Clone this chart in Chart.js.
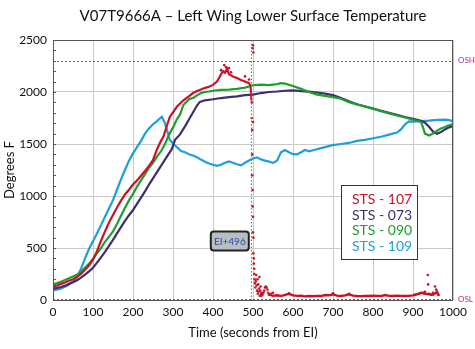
<!DOCTYPE html>
<html>
<head>
<meta charset="utf-8">
<script src="https://cdn.jsdelivr.net/npm/chart.js@4/dist/chart.umd.min.js"></script>
<style>
html,body{margin:0;padding:0;background:#fff;}
#c{display:block;}
</style>
</head>
<body>
<canvas id="c" width="475" height="349"></canvas>
<script>
// ---------- DATA ----------
const chartTitle = "V07T9666A \u2013 Left Wing Lower Surface Temperature";
const xTitle = "Time (seconds from EI)";
const yTitle = "Degrees F";
const seriesNames = ["STS - 107", "STS - 073", "STS - 090", "STS - 109"];
const seriesColors = ["#cc1126", "#3d2f6c", "#1f9e2e", "#1c9fdc"];

const t107 = [0,10,20,30,40,50,60,70,80,90,100,110,120,130,140,150,160,170,180,190,200,210,220,230,240,250,260,270,276,285,292,300,310,326,342,350,360,370,380,390,400,410,416,420,425,430,435,440,450,460,470,480,490,494,496];
const v107 = [130,140,155,168,185,200,222,250,290,330,388,470,570,660,745,818,890,955,1015,1060,1110,1150,1195,1240,1290,1345,1450,1530,1570,1680,1760,1805,1860,1920,1965,1990,2010,2025,2040,2050,2068,2100,2140,2170,2200,2185,2225,2170,2150,2135,2115,2100,2085,2060,1920];

const tTail107 = [540,550,560,570,580,590,600,610,620,630,640,650,660,670,680,690,700,710,720,730,740,750,760,770,780,790,800,810,820,830,840,850,860,870,880,890,900,910,920,930,940,950,960,965];
const vTail107 = [55,40,45,38,50,60,45,40,42,35,38,36,40,38,48,45,55,42,38,45,55,42,38,36,40,38,42,40,38,48,40,38,42,40,38,40,45,55,70,60,55,50,75,40];

const tDots107 = [420,428,432,436,440,445,480,490,499,500,501,500,497,497,498,498,498,499,499,500,500,501,501,502,502,503,503,504,505,506,507,508,509,510,511,512,513,514,515,516,517,518,519,520,521,522,524,526,528,530,532,534,536,538,540,545,550,590,700,740,905,915,925,930,937,938,940,945,950,955,958,960,963];
const vDots107 = [2210,2260,2240,2200,2230,2190,2150,2120,2420,2450,2380,1711,1900,1750,1635,1400,1200,1058,900,800,650,600,450,400,350,300,250,200,160,120,180,240,140,90,200,60,150,80,110,220,40,90,130,60,40,70,50,70,90,120,130,120,100,70,50,60,70,65,65,60,50,60,70,80,240,150,60,50,70,130,100,80,50];

const t073 = [0,10,20,30,40,50,60,70,80,90,100,110,120,130,140,150,160,170,180,190,200,210,220,230,240,250,260,270,280,290,297,305,317,330,342,351,360,367,380,400,420,440,460,480,500,520,540,560,580,600,620,640,660,680,700,720,740,760,780,800,820,840,860,880,900,920,930,940,950,960,970,980,990,1000];
const v073 = [110,116,125,138,155,170,190,215,245,275,310,360,410,462,520,578,640,700,760,815,865,925,985,1045,1110,1170,1230,1290,1350,1410,1450,1540,1590,1670,1750,1810,1870,1905,1920,1930,1942,1950,1958,1970,1975,1990,2000,2005,2012,2015,2008,2004,1995,1985,1970,1942,1910,1882,1860,1840,1820,1800,1780,1760,1742,1722,1705,1665,1620,1598,1615,1640,1660,1672];

const t090 = [0,10,20,30,40,50,60,70,80,90,100,110,120,130,140,150,160,170,180,190,200,210,220,230,240,250,260,270,280,290,301,310,317,326,340,351,360,370,380,390,400,420,440,460,480,500,520,540,560,570,580,600,620,640,660,680,700,720,740,760,780,800,820,840,860,880,900,910,920,925,930,940,950,960,970,980,990,1000];
const v090 = [150,162,175,192,210,226,242,272,310,350,395,450,500,560,610,660,730,810,888,958,1020,1090,1150,1210,1270,1318,1378,1430,1500,1590,1667,1740,1779,1875,1930,1945,1968,1990,2000,2005,2012,2020,2022,2030,2042,2065,2070,2066,2076,2085,2080,2058,2030,2000,1975,1962,1950,1935,1902,1880,1862,1840,1815,1795,1775,1755,1733,1724,1712,1660,1600,1582,1600,1628,1650,1664,1680,1690];

const t109 = [0,10,20,30,40,50,60,70,80,90,100,110,120,130,140,150,160,170,180,190,200,210,220,230,240,250,260,272,280,292,300,310,320,330,340,350,360,370,380,390,400,410,420,430,440,450,460,470,480,490,500,510,520,530,540,550,560,570,580,590,600,610,620,630,640,650,660,670,680,690,700,720,740,760,780,800,820,840,860,870,880,890,900,920,940,960,980,990,1000];
const v109 = [95,100,112,128,148,178,220,300,400,490,565,640,720,800,880,960,1060,1160,1250,1340,1410,1470,1530,1600,1650,1690,1720,1762,1700,1540,1505,1468,1432,1420,1402,1390,1372,1350,1330,1312,1300,1290,1300,1320,1332,1320,1305,1295,1320,1342,1360,1372,1352,1340,1330,1318,1340,1420,1442,1420,1402,1400,1420,1442,1430,1440,1450,1460,1470,1480,1490,1500,1510,1530,1540,1555,1570,1590,1610,1640,1690,1718,1715,1720,1725,1732,1735,1730,1720];

const xTicksStep = 100, xMin = 0, xMax = 1000;
const yTicksStep = 500, yMin = 0, yMax = 2500;
const oshValue = 2300, oslValue = 8;
const eiTime = 496;
const eiLabel = "EI+496";
const eiLabelAt = [442, 567];

// ---------- BUILD ----------
const pts = (ts, vs) => ts.map((t, i) => ({x: t, y: vs[i]}));
const lineDs = (label, ts, vs, color) => ({
  label, data: pts(ts, vs), borderColor: color, backgroundColor: color,
  borderWidth: 2.2, pointRadius: 0, tension: 0, fill: false
});

const datasets = [
  lineDs(seriesNames[0], t107, v107, seriesColors[0]),
  Object.assign(lineDs(seriesNames[0] + " tail", tTail107, vTail107, seriesColors[0]), {borderWidth: 2.4}),
  {label: seriesNames[0] + " dots", data: pts(tDots107, vDots107), showLine: false,
   pointRadius: 1.3, pointBorderWidth: 0, backgroundColor: seriesColors[0], borderColor: seriesColors[0]},
  lineDs(seriesNames[2], t090, v090, seriesColors[2]),
  lineDs(seriesNames[1], t073, v073, seriesColors[1]),
  lineDs(seriesNames[3], t109, v109, seriesColors[3])
];

const FONT = "Lato, 'Open Sans', 'DejaVu Sans', sans-serif";

const decor = {
  id: 'decor',
  beforeDatasetsDraw(chart) {
    const {ctx, chartArea: a, scales: {x, y}} = chart;
    ctx.save();
    ctx.strokeStyle = '#555'; ctx.lineWidth = 1;
    for (let v = yMin; v <= yMax; v += 100) {
      const py = Math.round(y.getPixelForValue(v)) + 0.5;
      ctx.beginPath(); ctx.moveTo(a.left, py); ctx.lineTo(a.left + 3, py); ctx.stroke();
    }
    ctx.strokeStyle = '#c0268c'; ctx.lineWidth = 1; ctx.setLineDash([2, 2]);
    [oshValue, oslValue].forEach(v => {
      const py = Math.round(y.getPixelForValue(v)) + 0.5;
      ctx.beginPath(); ctx.moveTo(a.left, py); ctx.lineTo(a.right, py); ctx.stroke();
    });
    ctx.setLineDash([]);
    ctx.fillStyle = '#c0268c'; ctx.font = "8px " + FONT;
    ctx.textAlign = 'left'; ctx.textBaseline = 'middle';
    ctx.fillText('OSH', a.right + 5, y.getPixelForValue(oshValue));
    ctx.fillText('OSL', a.right + 5, y.getPixelForValue(oslValue));
    ctx.restore();
  },
  afterDatasetsDraw(chart) {
    const {ctx, chartArea: a, scales: {x, y}} = chart;
    ctx.save();
    const px = Math.round(x.getPixelForValue(eiTime)) + 0.5;
    ctx.strokeStyle = '#2aa83a'; ctx.lineWidth = 1.2; ctx.setLineDash([1.5, 2]);
    ctx.beginPath(); ctx.moveTo(px, a.top); ctx.lineTo(px, a.bottom); ctx.stroke();
    ctx.setLineDash([]);
    ctx.strokeStyle = '#555'; ctx.lineWidth = 1;
    ctx.strokeRect(a.left + 0.5, a.top + 0.5, a.right - a.left - 1, a.bottom - a.top);
    const cx = x.getPixelForValue(eiLabelAt[0]), cy = y.getPixelForValue(eiLabelAt[1]);
    const bw = 38, bh = 19;
    ctx.beginPath();
    ctx.roundRect(cx - bw / 2, cy - bh / 2, bw, bh, 3);
    ctx.fillStyle = '#b9bdc4'; ctx.fill();
    ctx.lineWidth = 2; ctx.strokeStyle = '#222'; ctx.stroke();
    ctx.fillStyle = '#2d4c9c'; ctx.font = "10px " + FONT;
    ctx.textAlign = 'center'; ctx.textBaseline = 'middle';
    ctx.fillText(eiLabel, cx, cy + 0.5);
    const lx = 341, ly = 185, lw = 76, lh = 74;
    ctx.fillStyle = '#fff'; ctx.fillRect(lx, ly, lw, lh);
    ctx.strokeStyle = '#333'; ctx.lineWidth = 1;
    ctx.strokeRect(lx + 0.5, ly + 0.5, lw, lh);
    ctx.font = "14px " + FONT; ctx.textAlign = 'left';
    [0, 1, 2, 3].forEach((k, i) => {
      ctx.fillStyle = seriesColors[k];
      ctx.fillText(seriesNames[k], lx + 11, ly + 14.5 + i * 15.5);
    });
    ctx.restore();
  },
  afterDraw(chart) {
    const {ctx, chartArea: a} = chart;
    ctx.save();
    ctx.fillStyle = '#111'; ctx.font = "15px " + FONT;
    ctx.textAlign = 'center'; ctx.textBaseline = 'middle';
    ctx.fillText(chartTitle, (a.left + a.right) / 2, 16);
    ctx.restore();
  }
};

new Chart(document.getElementById('c'), {
  type: 'line',
  data: {datasets},
  options: {
    responsive: false,
    animation: false,
    layout: {padding: {top: 40, right: 22, left: 0, bottom: 0}},
    plugins: {legend: {display: false}, title: {display: false}, tooltip: {enabled: false}},
    scales: {
      x: {
        type: 'linear', min: xMin, max: xMax,
        ticks: {stepSize: xTicksStep, color: '#111', font: {family: FONT, size: 12}, padding: 5, maxRotation: 0,
                callback: v => String(v)},
        grid: {color: '#c9c9c9', lineWidth: 1, drawTicks: false},
        border: {display: false},
        title: {display: true, text: xTitle, color: '#111', font: {family: FONT, size: 13}, padding: {top: 0, bottom: 8}},
        afterFit(s) { s.height = 49; }
      },
      y: {
        type: 'linear', min: yMin, max: yMax,
        ticks: {stepSize: yTicksStep, color: '#111', font: {family: FONT, size: 12}, padding: 6,
                callback: v => String(v)},
        grid: {color: '#c9c9c9', lineWidth: 1, drawTicks: false},
        border: {display: false},
        title: {display: true, text: yTitle, color: '#111', font: {family: FONT, size: 13}, padding: {top: 2, bottom: 0}},
        afterFit(s) { s.width = 53; }
      }
    }
  },
  plugins: [decor]
});
</script>
</body>
</html>
